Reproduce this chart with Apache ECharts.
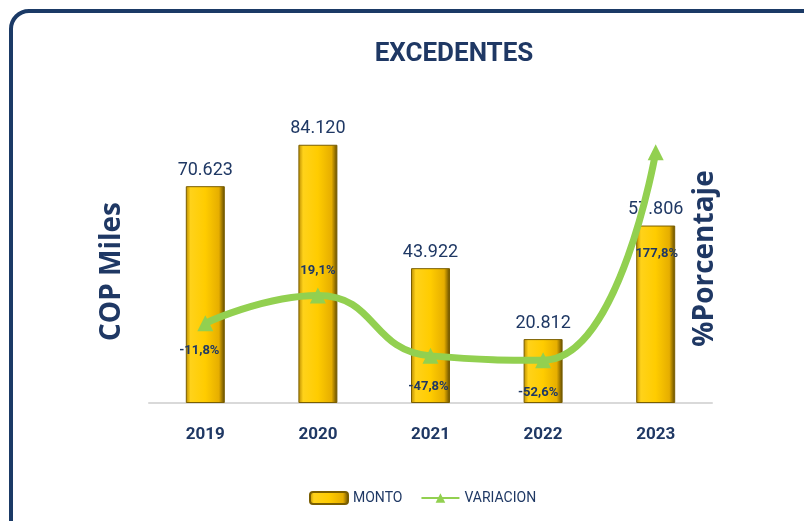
<!DOCTYPE html>
<html>
<head>
<meta charset="utf-8">
<script src="https://cdn.jsdelivr.net/npm/echarts@6/dist/echarts.min.js"></script>
<style>
  html, body { margin: 0; padding: 0; background: #fff; }
  #main { width: 804px; height: 521px; }
</style>
</head>
<body>
<div id="main"></div>
<script>
var years = ['2019', '2020', '2021', '2022', '2023'];
var monto = [70623, 84120, 43922, 20812, 57806];
var variacion = [-11.8, 19.1, -47.8, -52.6, 177.8];

var navy = '#1F3864';
var face = 'Roboto, sans-serif';

// where each percentage label sits relative to its point
var labelOffsets = [[-6, 27], [0, -25], [-2, 31], [-5, 33], [1, 102]];

function fmtMiles(v) {
  return v.toLocaleString('de-DE');
}
function fmtPct(v) {
  return v.toFixed(1).replace('.', ',') + '%';
}

var gold = new echarts.graphic.LinearGradient(0, 0, 1, 0, [
  { offset: 0, color: '#B88A00' },
  { offset: 0.12, color: '#FFD21A' },
  { offset: 0.5, color: '#FFCC00' },
  { offset: 0.85, color: '#E6AE00' },
  { offset: 1, color: '#5E4800' }
]);

var myChart = echarts.init(document.getElementById('main'));
var option = {
  backgroundColor: '#fff',
  title: {
    text: 'EXCEDENTES',
    left: 449,
    textAlign: 'center',
    top: 36,
    textStyle: {
      color: navy,
      fontFamily: face,
      fontWeight: 'bold',
      fontSize: 26
    }
  },
  graphic: [{
    type: 'rect',
    shape: { x: 11, y: 11, width: 830, height: 530, r: 18 },
    style: { fill: 'none', stroke: '#1B3A66', lineWidth: 4 },
    silent: true
  }],
  legend: {
    left: 304,
    top: 486,
    itemWidth: 38,
    itemHeight: 12,
    itemGap: 18,
    textStyle: { color: navy, fontFamily: face, fontSize: 14 },
    data: ['MONTO', 'VARIACION']
  },
  grid: { left: 149, right: 92, top: 96, bottom: 118 },
  xAxis: {
    type: 'category',
    data: years,
    axisTick: { show: false },
    axisLine: { lineStyle: { color: '#D9D9D9', width: 2 } },
    axisLabel: {
      color: navy,
      fontFamily: face,
      fontWeight: 'bold',
      fontSize: 17,
      margin: 23
    }
  },
  yAxis: [{
    type: 'value',
    min: 0,
    max: 100000,
    axisLabel: { show: false },
    axisLine: { show: false },
    axisTick: { show: false },
    splitLine: { show: false },
    name: 'COP Miles',
    nameLocation: 'middle',
    nameGap: 23,
    nameRotate: 90,
    nameTextStyle: {
      color: navy,
      fontFamily: '"Open Sans", sans-serif',
      fontWeight: 'bold',
      fontSize: 28,
      padding: [0, 44, 0, 0]
    }
  }, {
    type: 'value',
    min: -100,
    max: 240,
    axisLabel: { show: false },
    axisLine: { show: false },
    axisTick: { show: false },
    splitLine: { show: false },
    name: '%Porcentaje',
    nameLocation: 'middle',
    nameGap: -21,
    nameRotate: 90,
    nameTextStyle: {
      color: navy,
      fontFamily: '"Open Sans", sans-serif',
      fontWeight: 'bold',
      fontSize: 28,
      padding: [0, 18, 0, 0]
    }
  }],
  series: [{
    name: 'MONTO',
    type: 'bar',
    barWidth: 39,
    data: monto,
    itemStyle: {
      color: gold,
      borderColor: '#7A5E00',
      borderWidth: 1
    },
    label: {
      show: true,
      position: 'top',
      distance: 7,
      color: navy,
      fontFamily: face,
      fontSize: 18,
      formatter: function (p) { return fmtMiles(p.value); }
    }
  }, {
    name: 'VARIACION',
    type: 'line',
    yAxisIndex: 1,
    smooth: 0.5,
    symbol: 'triangle',
    symbolSize: 16,
    lineStyle: { color: '#92D050', width: 7 },
    itemStyle: { color: '#92D050' },
    data: variacion.map(function (v, i) {
      return {
        value: v,
        label: { offset: labelOffsets[i] }
      };
    }),
    label: {
      show: true,
      position: 'inside',
      color: navy,
      fontFamily: face,
      fontWeight: 'bold',
      fontSize: 13,
      formatter: function (p) { return fmtPct(p.value); }
    },
    z: 5
  }]
};
myChart.setOption(option);
</script>
</body>
</html>
